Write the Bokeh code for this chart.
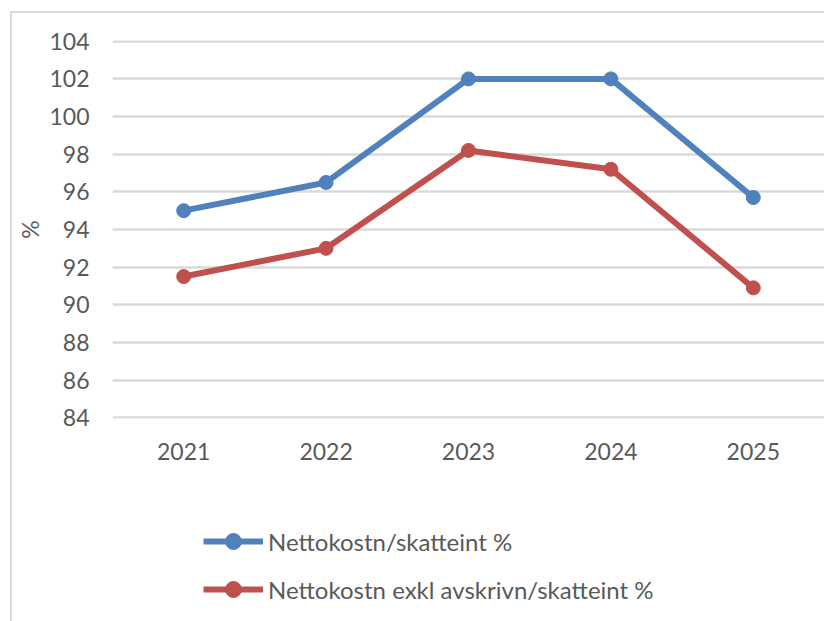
from bokeh.plotting import figure
from bokeh.models import FactorRange, Range1d, Legend, LegendItem, FixedTicker, ColumnDataSource
from bokeh.layouts import column
from bokeh.embed import file_html
from bokeh.resources import INLINE

years = ["2021", "2022", "2023", "2024", "2025"]
netto = [95.0, 96.5, 102.0, 102.0, 95.7]
netto_exkl = [91.5, 93.0, 98.2, 97.2, 90.9]
y_ticks = [84, 86, 88, 90, 92, 94, 96, 98, 100, 102, 104]
series_names = ["Nettokostn/skatteint %", "Nettokostn exkl avskrivn/skatteint %"]

FONT = "Lato"
TXT = "#595959"
FS = "23px"
colors = ["#4f81bd", "#c0504d"]

p = figure(width=812, height=477, x_range=FactorRange(*years, range_padding=0),
           y_range=Range1d(83.96, 104.04), output_backend="svg", toolbar_location=None,
           min_border_left=100, min_border_right=0, min_border_top=27, min_border_bottom=72)
p.outline_line_color = None
p.xgrid.grid_line_color = None
p.ygrid.grid_line_color = "#d9d9d9"
p.ygrid.grid_line_width = 2.5

p.yaxis.ticker = FixedTicker(ticks=y_ticks)
for ax in (p.xaxis[0], p.yaxis[0]):
    ax.axis_line_color = None
    ax.major_tick_line_color = None
    ax.minor_tick_line_color = None
    ax.major_tick_out = 0
    ax.major_tick_in = 0
    ax.minor_tick_out = 0
    ax.minor_tick_in = 0
    ax.major_label_text_font = FONT
    ax.major_label_text_font_size = FS
    ax.major_label_text_color = TXT
p.yaxis.major_label_standoff = 23
p.xaxis.major_label_standoff = 24
p.yaxis.axis_label = "%"
p.yaxis.axis_label_text_font = FONT
p.yaxis.axis_label_text_font_size = FS
p.yaxis.axis_label_text_font_style = "normal"
p.yaxis.axis_label_text_color = TXT
p.yaxis.axis_label_standoff = 2

for vals, col in zip([netto, netto_exkl], colors):
    p.line(years, vals, line_color=col, line_width=6)
    p.scatter(years, vals, size=14, fill_color=col, line_color=col)

# legend panel
q = figure(width=812, height=131, x_range=Range1d(0, 1), y_range=Range1d(0, 1),
           output_backend="svg", toolbar_location=None,
           x_axis_location=None, y_axis_location=None,
           min_border=0, min_border_left=0, min_border_right=0, min_border_top=0, min_border_bottom=0)
q.outline_line_color = None
q.xgrid.visible = False
q.ygrid.visible = False
items = []
for col, name in zip(colors, series_names):
    src = ColumnDataSource(data=dict(x=[-10], y=[-10]))
    l = q.line("x", "y", source=src, line_color=col, line_width=6)
    s = q.scatter("x", "y", source=src, size=15, fill_color=col, line_color=col)
    items.append(LegendItem(label=name, renderers=[l, s]))
legend = Legend(items=items, location=(91, 12), orientation="vertical",
                label_text_font=FONT, label_text_font_size="24px", label_text_color=TXT,
                glyph_width=60, glyph_height=40, label_height=40, label_standoff=5,
                spacing=8, padding=0, margin=0, border_line_color=None,
                background_fill_alpha=0)
q.add_layout(legend, "center")

layout = column(p, q, spacing=0,
                styles={"margin-left": "10px", "margin-top": "11px",
                        "border-left": "2px solid #d9d9d9", "border-top": "2px solid #d9d9d9"})

open("out.html", "w").write(file_html(layout, INLINE))
